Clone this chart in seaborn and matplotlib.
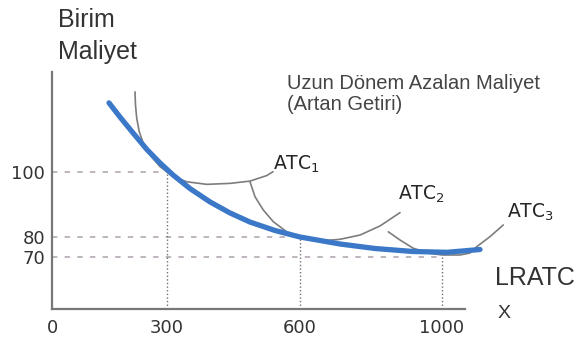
import matplotlib
matplotlib.use("Agg")
import matplotlib.pyplot as plt
import seaborn as sns
import numpy as np

# Long-run average cost (LRATC) envelope
lratc_q = [148.7, 177.4, 211.3, 247.8, 281.7, 313.5, 351.9, 397.0, 442.1, 487.2,
           543.6, 600, 712.7, 811.3, 918.3, 1012.8, 1097.4]
lratc_c = [124.4, 119.4, 113.8, 107.9, 103.2, 99.1, 94.9, 90.8, 87.4, 84.6,
           82.0, 80.0, 76.5, 74.25, 72.75, 72.35, 73.75]

# Short-run average cost curves
atc1_q = [216.5, 217.8, 221.0, 227.7, 238.2, 255.7, 281.7, 314.2, 344.4, 389.5,
          442.1, 487.2, 524.9, 539.1]
atc1_c = [128.3, 123.6, 119.0, 114.2, 110.1, 106.0, 101.9, 98.55, 97.0, 96.2,
          96.5, 97.2, 98.9, 100.1]
atc2_q = [487.2, 498.5, 517.2, 539.8, 570.0, 609.3, 665.6, 712.7, 769.0, 825.4, 881.7]
atc2_c = [97.0, 92.4, 88.3, 84.7, 81.6, 79.35, 78.15, 78.85, 80.6, 83.4, 87.5]
atc3_q = [848.7, 881.7, 919.2, 966.2, 1000, 1046, 1071.8, 1089, 1123, 1157]
atc3_c = [81.6, 78.5, 74.35, 71.85, 71.0, 71.0, 72.0, 75.15, 80.1, 83.7]

# Reference points and ticks
guide_q = [300, 600, 1000]
guide_c = [100, 80, 70]
x_ticks = [0, 300, 600, 1000]
y_ticks = [70, 80, 100]


def piecewise(knots, vals, lo, hi):
    # piecewise linear axis (the sketch is not drawn to scale)
    knots, vals = np.asarray(knots, float), np.asarray(vals, float)

    def fwd(v):
        v = np.asarray(v, float)
        out = np.interp(v, knots, vals)
        out = np.where(v < knots[0], vals[0] + (v - knots[0]) * lo, out)
        return np.where(v > knots[-1], vals[-1] + (v - knots[-1]) * hi, out)

    def inv(u):
        u = np.asarray(u, float)
        out = np.interp(u, vals, knots)
        out = np.where(u < vals[0], knots[0] + (u - vals[0]) / lo, out)
        return np.where(u > vals[-1], knots[-1] + (u - vals[-1]) / hi, out)
    return fwd, inv


sns.set_style("white")
plt.rcParams['font.family'] = ['DejaVu Sans']

fig = plt.figure(figsize=(5.85, 3.45), dpi=100)
ax = fig.add_axes([52/585, 36/345, 504/585, 237/345])

ax.set_xscale("function", functions=piecewise(x_ticks, [52, 167, 300, 442], 0.3833, 0.39))
ax.set_yscale("function", functions=piecewise(y_ticks, [-257, -237, -172], 2.0, 2.833))
ymin, ymax = 44.0, 135.3
ax.set_xlim(0, 1292.3)
ax.set_ylim(ymin, ymax)

# guide lines
ax.hlines(guide_c, 0, guide_q, colors="#b9afb9", linestyles=(0, (3, 4)), linewidth=1.3, zorder=1)
ax.vlines(guide_q, ymin, guide_c, colors="#707070", linestyles=(0, (1, 1.6)), linewidth=1.0, zorder=1)

grey = "#7d7d7d"
for q, c in [(atc1_q, atc1_c), (atc2_q, atc2_c), (atc3_q, atc3_c)]:
    sns.lineplot(x=q, y=c, ax=ax, color=grey, linewidth=1.2, sort=False, estimator=None, zorder=2)
sns.lineplot(x=lratc_q, y=lratc_c, ax=ax, color="#3c78c8", linewidth=3.8, sort=False,
             estimator=None, zorder=3)

for s in ["top", "right"]:
    ax.spines[s].set_visible(False)
for s in ["left", "bottom"]:
    ax.spines[s].set_color("#777777")
    ax.spines[s].set_linewidth(1.6)
ax.spines["bottom"].set_bounds(0, 1059)

ax.set_xticks(x_ticks)
ax.set_xticklabels([str(v) for v in x_ticks])
ax.set_yticks(y_ticks)
ax.set_yticklabels([str(v) for v in y_ticks])
ax.minorticks_off()
ax.tick_params(axis="both", length=0, labelsize=13, colors="#333333")
ax.tick_params(axis="x", pad=7)
ax.tick_params(axis="y", pad=5)
ax.set_xlabel("")
ax.set_ylabel("")

W, H = 585, 345
def ftext(px, py, s, **kw):
    fig.text(px / W, 1 - py / H, s, va="baseline", ha="left", **kw)

big = dict(family="Liberation Sans", fontsize=18, color="#333333")
ftext(58, 27, "Birim", **big)
ftext(58, 59.5, "Maliyet", **big)
ftext(495, 285, "LRATC", **big)
ftext(498, 318, "X", family="Liberation Sans", fontsize=14, color="#333333")

mid = dict(family="Liberation Sans", fontsize=14.5, color="#444444")
ftext(287, 89, "Uzun Dönem Azalan Maliyet", **mid)
ftext(287, 110, "(Artan Getiri)", **mid)

atc = dict(fontsize=13.5, color="#262626")
ftext(273, 170, r"ATC$_1$", **atc)
ftext(398, 200, r"ATC$_2$", **atc)
ftext(507, 218, r"ATC$_3$", **atc)

fig.savefig("out.png", dpi=100)
